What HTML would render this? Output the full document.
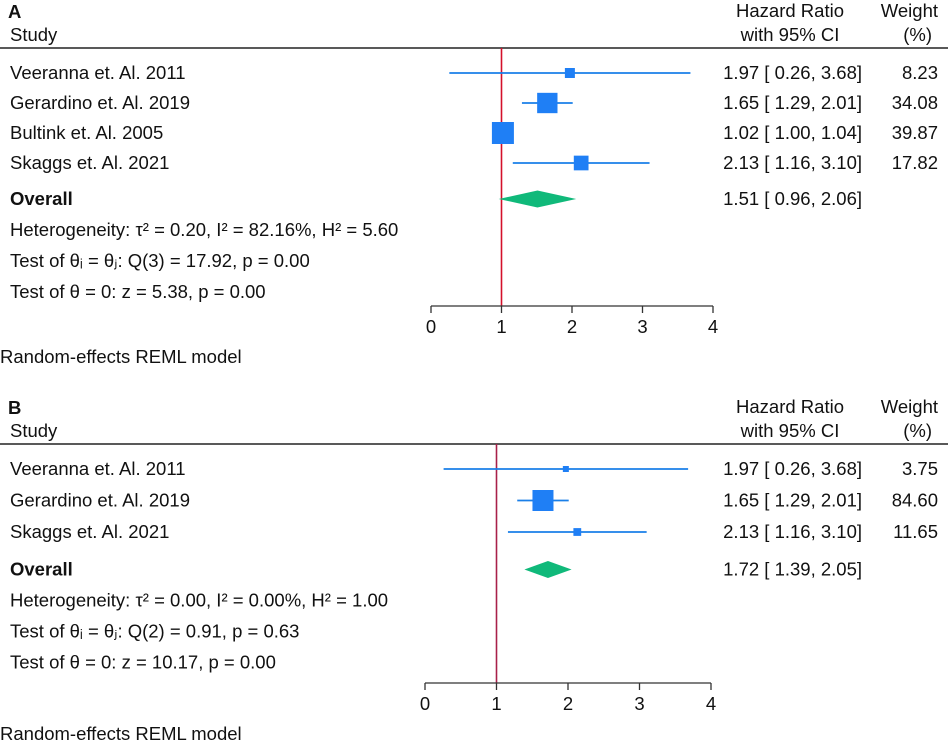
<!DOCTYPE html>
<html><head><meta charset="utf-8">
<style>
body{margin:0;background:#fff;}
svg text{font-family:"Liberation Sans",Arial,sans-serif;font-size:18.5px;fill:#111;}
</style></head>
<body>
<svg id="chart" width="948" height="748" xmlns="http://www.w3.org/2000/svg"></svg>
<script>
// Panel A data
const studiesA = ["Veeranna et. Al. 2011","Gerardino et. Al. 2019","Bultink et. Al. 2005","Skaggs et. Al. 2021"];
const hrA = [1.97,1.65,1.02,2.13];
const loA = [0.26,1.29,1.00,1.16];
const hiA = [3.68,2.01,1.04,3.10];
const wA = [8.23,34.08,39.87,17.82];
const overallA = [1.51,0.96,2.06];
const statsA = ["Heterogeneity: τ² = 0.20, I² = 82.16%, H² = 5.60","Test of θᵢ = θⱼ: Q(3) = 17.92, p = 0.00","Test of θ = 0: z = 5.38, p = 0.00"];
// Panel B data
const studiesB = ["Veeranna et. Al. 2011","Gerardino et. Al. 2019","Skaggs et. Al. 2021"];
const hrB = [1.97,1.65,2.13];
const loB = [0.26,1.29,1.16];
const hiB = [3.68,2.01,3.10];
const wB = [3.75,84.60,11.65];
const overallB = [1.72,1.39,2.05];
const statsB = ["Heterogeneity: τ² = 0.00, I² = 0.00%, H² = 1.00","Test of θᵢ = θⱼ: Q(2) = 0.91, p = 0.63","Test of θ = 0: z = 10.17, p = 0.00"];
const ticks = [0,1,2,3,4];

const svg = document.getElementById('chart');
const NS = "http://www.w3.org/2000/svg";
function mk(tag, attrs, parent){
  const e = document.createElementNS(NS, tag);
  for (const k in attrs) e.setAttribute(k, attrs[k]);
  (parent||svg).appendChild(e);
  return e;
}
function txt(x,y,s,anchor,parent,bold){
  const t = mk('text',{x:x,y:y,'text-anchor':anchor||'start'},parent);
  if(bold) t.setAttribute('font-weight','bold');
  t.textContent = s;
  return t;
}
const f = v => v.toFixed(2);
const ci = (a,b,c) => f(a)+" [ "+f(b)+", "+f(c)+"]";

function panel(cfg){
  const g = mk('g',{});
  
  
  const T = cfg.top;
  const x = v => cfg.x0 + v*(cfg.x4-cfg.x0)/4;
  const lbl = txt(8, T+18, cfg.letter, 'start', g, true);
  lbl.setAttribute('font-size','21');
  
  
  const st = txt(10, T+41, "Study", 'start', g);
  
  
  const h1 = txt(790, T+17, "Hazard Ratio", 'middle', g);
  
  
  txt(790, T+41, "with 95% CI", 'middle', g);
  const h2 = txt(938, T+17, "Weight", 'end', g);
  
  
  txt(932, T+41, "(%)", 'end', g);
  const rule = mk('line',{x1:0,x2:948,y1:T+48,y2:T+48,stroke:'#222','stroke-width':1.5},g);
  
  
  const ref = mk('line',{x1:x(1),x2:x(1),y1:T+48,y2:cfg.axisY,stroke:cfg.refColor,'stroke-width':1.6},g);
  
  
  const rows = cfg.studies.length;
  const maxW = Math.max(...cfg.w);
  for(let i=0;i<rows;i++){
    const y = T+73+i*cfg.rowH;
    const n = txt(10, y+6, cfg.studies[i], 'start', g);
    
    
    const l = mk('line',{x1:x(cfg.lo[i]),x2:x(cfg.hi[i]),y1:y,y2:y,stroke:'#1a7fe8','stroke-width':1.8},g);
    
    
    const s = Math.max(6, cfg.maxSq*Math.sqrt(cfg.w[i]/maxW));
    const sq = mk('rect',{x:x(cfg.hr[i])-s/2,y:y-s/2,width:s,height:s,fill:'#1f7ff5'},g);
    
    
    const c = txt(862, y+6, ci(cfg.hr[i],cfg.lo[i],cfg.hi[i]), 'end', g);
    
    
    const wt = txt(938, y+6, f(cfg.w[i]), 'end', g);
    
    
  }
  const oy = T+73+rows*cfg.rowH+6;
  const on = txt(10, oy+6, "Overall", 'start', g, true);
  
  
  const o = cfg.overall;
  const d = mk('polygon',{points:`${x(o[1])},${oy} ${x(o[0])},${oy-8.5} ${x(o[2])},${oy} ${x(o[0])},${oy+8.5}`,fill:'#10b97a'},g);
  
  
  const oc = txt(862, oy+6, ci(o[0],o[1],o[2]), 'end', g);
  
  
  for(let i=0;i<cfg.stats.length;i++){
    const s = txt(10, oy+37+i*31, cfg.stats[i], 'start', g);
    
    
  }
  const ax = mk('line',{x1:x(0),x2:x(4),y1:cfg.axisY,y2:cfg.axisY,stroke:'#333','stroke-width':1.3},g);
  
  
  ticks.forEach(t=>{
    const tk = mk('line',{x1:x(t),x2:x(t),y1:cfg.axisY,y2:cfg.axisY+7,stroke:'#333','stroke-width':1.3},g);
    
    
    const tl = txt(x(t), cfg.axisY+27, String(t), 'middle', g);
    
    
  });
  const m = txt(0, cfg.axisY+57, "Random-effects REML model", 'start', g);
  m.setAttribute('font-size','17.5');
  
  
}
panel({name:'panel-a',letter:'A',top:0,x0:431,x4:713,axisY:306,rowH:30,maxSq:22,studies:studiesA,hr:hrA,lo:loA,hi:hiA,w:wA,overall:overallA,stats:statsA,refColor:'#d4102a'});
panel({name:'panel-b',letter:'B',top:396,x0:425,x4:711,axisY:683,rowH:31.5,maxSq:21,studies:studiesB,hr:hrB,lo:loB,hi:hiB,w:wB,overall:overallB,stats:statsB,refColor:'#a8204a'});
</script>
</body></html>
